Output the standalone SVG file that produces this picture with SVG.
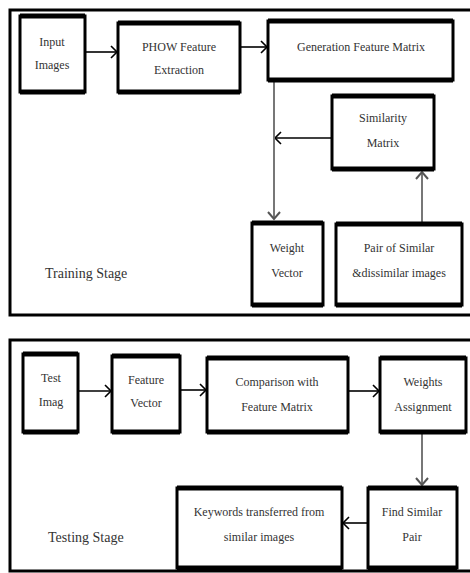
<svg xmlns="http://www.w3.org/2000/svg" width="470" height="573" viewBox="0 0 470 573">
<style>
.frame{fill:none;stroke:#000;stroke-width:3}
.box{fill:#fff;stroke:#000;stroke-width:3}
.bar{fill:none;stroke:#000;stroke-width:5}
text{font-family:'Liberation Serif','DejaVu Serif',serif;fill:#333}
.t{font-size:12px;text-anchor:middle}
.s{font-size:14px}
.a{fill:none;stroke:#000;stroke-width:1.6}
.g{fill:none;stroke:#777;stroke-width:2}
.h{fill:none;stroke:#000;stroke-width:1.6}
.hg{fill:none;stroke:#555;stroke-width:2}
</style>
<rect width="470" height="573" fill="#fff"/>
<g id="training-frame">
<rect class="frame" x="10" y="10" width="470" height="305"/>
<text class="s" x="45" y="278" font-family="Liberation Serif, serif">Training Stage</text>
</g>
<g id="testing-frame">
<rect class="frame" x="10" y="340" width="470" height="231"/>
<text class="s" x="48" y="542" font-family="Liberation Serif, serif">Testing Stage</text>
</g>
<g id="connectors">
<path class="a" d="M85 52H117"/><path class="h" d="M111 46L117 52L111 58"/>
<path class="a" d="M240 47H267"/><path class="h" d="M261 41L267 47L261 53"/>
<path class="a" d="M332 138H275"/><path class="h" d="M281 132L275 138L281 144"/>
<path class="g" d="M274 82V219"/><path class="hg" d="M268 212L274 219L280 212"/>
<path class="g" d="M422 222V172"/><path class="hg" d="M416 179L422 172L428 179"/>
<path class="a" d="M78 391H111"/><path class="h" d="M105 385L111 391L105 397"/>
<path class="a" d="M180 390H206"/><path class="h" d="M200 384L206 390L200 396"/>
<path class="a" d="M348 391H379"/><path class="h" d="M373 385L379 391L373 397"/>
<path class="g" d="M422 434V485"/><path class="hg" d="M416 478L422 485L428 478"/>
<path class="a" d="M368 523H343"/><path class="h" d="M349 517L343 523L349 529"/>
</g>
<g id="input-images">
<rect class="box" x="20" y="16" width="65" height="76"/><path class="bar" d="M20 16H85M20 92H85"/>
<text class="t" x="52" y="46">Input</text><text class="t" x="52" y="69">Images</text>
</g>
<g id="phow">
<rect class="box" x="118" y="23" width="122" height="69"/><path class="bar" d="M118 23H240M118 92H240"/>
<text class="t" x="179" y="51">PHOW Feature</text><text class="t" x="179" y="74">Extraction</text>
</g>
<g id="generation">
<rect class="box" x="268" y="21" width="185" height="59"/><path class="bar" d="M268 21H453M268 80H453"/>
<text class="t" x="361" y="51">Generation Feature Matrix</text>
</g>
<g id="similarity">
<rect class="box" x="332" y="96" width="102" height="73"/><path class="bar" d="M332 96H434M332 169H434"/>
<text class="t" x="383" y="122">Similarity</text><text class="t" x="383" y="147">Matrix</text>
</g>
<g id="weight-vector">
<rect class="box" x="252" y="223" width="71" height="82"/><path class="bar" d="M252 223H323M252 305H323"/>
<text class="t" x="287" y="252">Weight</text><text class="t" x="287" y="277">Vector</text>
</g>
<g id="pair">
<rect class="box" x="336" y="224" width="126" height="81"/><path class="bar" d="M336 224H462M336 305H462"/>
<text class="t" x="399" y="252">Pair of Similar</text><text class="t" x="399" y="277">&amp;dissimilar images</text>
</g>
<g id="test-imag">
<rect class="box" x="23" y="354" width="55" height="78"/><path class="bar" d="M23 354H78M23 432H78"/>
<text class="t" x="51" y="382">Test</text><text class="t" x="51" y="406">Imag</text>
</g>
<g id="feature-vector">
<rect class="box" x="112" y="356" width="68" height="76"/><path class="bar" d="M112 356H180M112 432H180"/>
<text class="t" x="146" y="384">Feature</text><text class="t" x="146" y="407">Vector</text>
</g>
<g id="comparison">
<rect class="box" x="207" y="358" width="141" height="74"/><path class="bar" d="M207 358H348M207 432H348"/>
<text class="t" x="277" y="386">Comparison with</text><text class="t" x="277" y="411">Feature Matrix</text>
</g>
<g id="weights-assignment">
<rect class="box" x="380" y="358" width="86" height="74"/><path class="bar" d="M380 358H466M380 432H466"/>
<text class="t" x="423" y="386">Weights</text><text class="t" x="423" y="411">Assignment</text>
</g>
<g id="find-similar">
<rect class="box" x="368" y="488" width="89" height="80"/><path class="bar" d="M368 488H457M368 568H457"/>
<text class="t" x="412" y="516">Find Similar</text><text class="t" x="412" y="541">Pair</text>
</g>
<g id="keywords">
<rect class="box" x="177" y="488" width="165" height="80"/><path class="bar" d="M177 488H342M177 568H342"/>
<text class="t" x="259" y="516">Keywords transferred from</text><text class="t" x="259" y="541">similar images</text>
</g>
</svg>
